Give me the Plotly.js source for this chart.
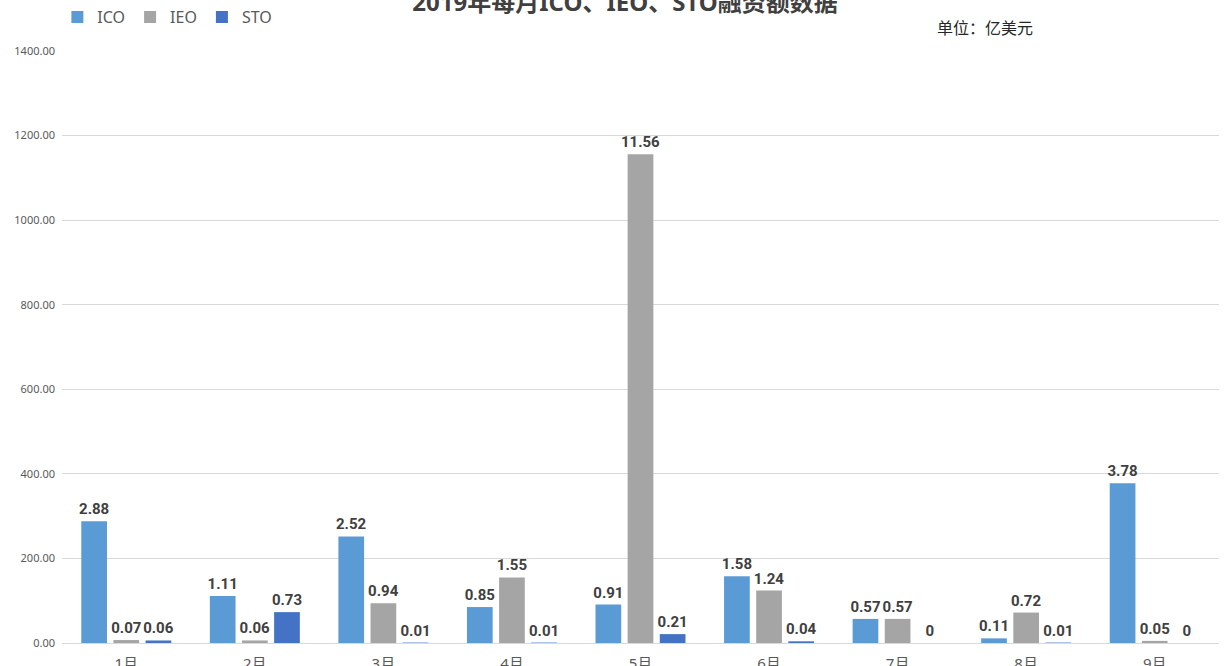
<!DOCTYPE html>
<html>
<head>
<meta charset="utf-8">
<script src="https://cdn.plot.ly/plotly-3.0.1.min.js"></script>
<style>html,body{margin:0;padding:0;background:#fff;}#chart{width:1229px;height:666px;}</style>
</head>
<body>
<div id="chart"></div>
<script>
// Values in 亿美元 (labels); bars drawn in axis units (百万美元) = value * 100
var months = ["1月","2月","3月","4月","5月","6月","7月","8月","9月"];
var icoValues = [2.88, 1.11, 2.52, 0.85, 0.91, 1.58, 0.57, 0.11, 3.78];
var ieoValues = [0.07, 0.06, 0.94, 1.55, 11.56, 1.24, 0.57, 0.72, 0.05];
var stoValues = [0.06, 0.73, 0.01, 0.01, 0.21, 0.04, 0, 0.01, 0];
var seriesNames = ["ICO", "IEO", "STO"];
var seriesColors = ["#5b9bd5", "#a5a5a5", "#4472c4"];
var yTicks = [0, 200, 400, 600, 800, 1000, 1200, 1400];

var FONT = "Noto Sans, Noto Sans CJK SC, sans-serif";
var LABEL_FONT = "Roboto, Noto Sans, sans-serif";

function mk(name, vals, color) {
  return {
    type: "bar",
    name: name,
    x: months,
    y: vals.map(function (v) { return v * 100; }),
    text: vals.map(function (v) { return String(v); }),
    textposition: "outside",
    constraintext: "none",
    cliponaxis: false,
    textfont: { family: LABEL_FONT, size: 15, color: "#404040", weight: "bold" },
    marker: { color: color },
    hoverinfo: "x+y+name"
  };
}

var data = [
  mk(seriesNames[0], icoValues, seriesColors[0]),
  mk(seriesNames[1], ieoValues, seriesColors[1]),
  mk(seriesNames[2], stoValues, seriesColors[2])
];

var layout = {
  width: 1229,
  height: 666,
  margin: { l: 62, r: 10, t: 51, b: 23, autoexpand: false },
  paper_bgcolor: "#ffffff",
  plot_bgcolor: "#ffffff",
  font: { family: FONT, color: "#595959" },
  title: {
    text: "2019年每月ICO、IEO、STO融资额数据",
    font: { family: FONT, size: 24, color: "#404040", weight: "bold" },
    x: 0.5086, xanchor: "center",
    y: 0.996, yanchor: "middle"
  },
  barmode: "group",
  bargap: 0.25,
  bargroupgap: 0.2,
  showlegend: true,
  legend: {
    orientation: "h",
    x: -0.004, xanchor: "left",
    y: 1.086, yanchor: "top",
    font: { family: FONT, size: 16, color: "#595959" },
    itemwidth: 30,
    bgcolor: "rgba(0,0,0,0)"
  },
  xaxis: {
    type: "category",
    showgrid: false,
    showline: true,
    linecolor: "#d9d9d9",
    linewidth: 1,
    ticks: "",
    tickfont: { family: FONT, size: 15, color: "#595959" },
    ticklabelstandoff: 7,
    zeroline: false
  },
  yaxis: {
    range: [0, 1400],
    tickvals: yTicks,
    tickformat: ".2f",
    showgrid: true,
    gridcolor: "#d9d9d9",
    gridwidth: 1,
    zeroline: false,
    showline: false,
    ticks: "",
    tickfont: { family: FONT, size: 11, color: "#595959" },
    ticklabelstandoff: 6
  },
  annotations: [
    {
      text: "单位：亿美元",
      xref: "paper", yref: "paper",
      x: 0.798, y: 1.039,
      xanchor: "center", yanchor: "middle",
      showarrow: false,
      font: { family: FONT, size: 16, color: "#262626" }
    }
  ]
};

Plotly.newPlot("chart", data, layout, { displayModeBar: false, staticPlot: true });
</script>
</body>
</html>
